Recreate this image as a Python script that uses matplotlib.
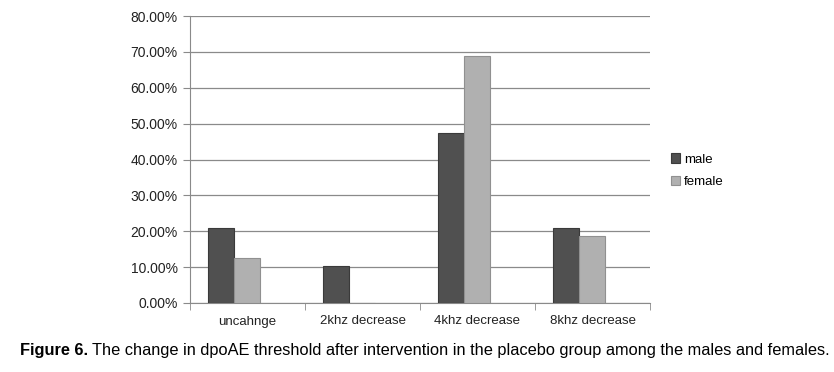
import matplotlib.pyplot as plt
import numpy as np

plt.rcParams['font.family'] = ['Liberation Sans', 'DejaVu Sans']

categories = ['uncahnge', '2khz decrease', '4khz decrease', '8khz decrease']
male = [21.0, 10.3, 47.5, 21.0]
female = [12.5, 0, 68.8, 18.8]
yticks = [0, 10, 20, 30, 40, 50, 60, 70, 80]

fig = plt.figure(figsize=(8.34, 3.72), dpi=100)
ax = fig.add_axes([190/834, 1-303/372, 460/834, 287/372])

x = np.arange(len(categories))
w = 0.226
shift = -0.115  # bars sit a little left of the category centre in the original
ax.bar(x - w/2 + shift, male, width=w, color='#505050', edgecolor='#3a3a3a', linewidth=0.8, label='male', zorder=3)
ax.bar(x + w/2 + shift, female, width=w, color='#b0b0b0', edgecolor='#909090', linewidth=0.8, label='female', zorder=3)

ax.set_xlim(-0.5, 3.5)
ax.set_ylim(0, 80)
ax.set_yticks(yticks)
ax.set_yticklabels(['%.2f%%' % v for v in yticks], fontsize=10, color='#222222')
ax.yaxis.grid(True, color='#8a8a8a', linewidth=0.9, zorder=0)

ax.set_xticks(x)
ax.set_xticklabels(categories, fontsize=9.5, color='#222222')
ax.tick_params(axis='x', length=0, pad=9)
ax.set_xticks(np.arange(-0.5, 4, 1), minor=True)
ax.tick_params(axis='x', which='minor', length=5, direction='out', color='#8a8a8a')
ax.tick_params(axis='y', length=5, direction='out', color='#8a8a8a', pad=4)

for s in ['top', 'right']:
    ax.spines[s].set_visible(False)
for s in ['left', 'bottom']:
    ax.spines[s].set_color('#8a8a8a')

ax.legend(loc='center left', bbox_to_anchor=(1.02, 0.46), frameon=False, fontsize=9.5,
          handlelength=0.7, handleheight=0.7, handletextpad=0.3, labelspacing=0.8)

# caption: bold "Figure 6." followed by regular text
t1 = fig.text(20/834, 1-350/372, 'Figure 6.', fontsize=11.8, va='center', ha='left', fontweight='bold')
fig.canvas.draw()
bb = t1.get_window_extent()
fig.text((bb.x1 + 4)/834, 1-350/372,
         'The change in dpoAE threshold after intervention in the placebo group among the males and females.',
         fontsize=11.8, va='center', ha='left')

fig.savefig('out.png', dpi=100)
